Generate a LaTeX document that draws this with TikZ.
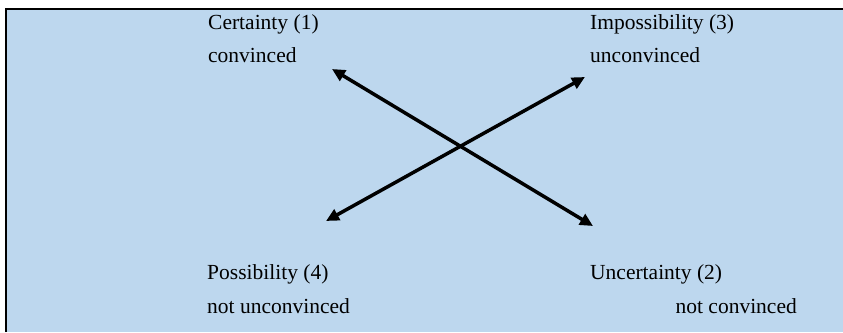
\documentclass[tikz,border=0pt]{standalone}
\usepackage{fontspec}
\setmainfont{Liberation Serif}
\usetikzlibrary{arrows.meta}
\definecolor{panelblue}{HTML}{BDD7EE}
\tikzset{
  lbl/.style={anchor=base west, inner sep=0pt, font=\fontsize{21.5}{26}\selectfont, text=black},
  dblarrow/.style={line width=3.5pt, {Triangle[length=13pt,width=12pt]}-{Triangle[length=13pt,width=12pt]}},
}
\begin{document}
\begin{tikzpicture}[x=1pt,y=-1pt]
\useasboundingbox (0,0) rectangle (843,332);
\fill[panelblue] (6,9) rectangle (843,332);
\draw[line width=1.3pt] (6,332) -- (6,9) -- (843,9);
% texts
\node[lbl] (cert) at (208,29) {Certainty (1)};
\node[lbl] (conv) at (208,62) {convinced};
\node[lbl] (imp) at (590,29) {Impossibility (3)};
\node[lbl] (unconv) at (590,62) {unconvinced};
\node[lbl] (poss) at (207,279) {Possibility (4)};
\node[lbl] (notunconv) at (207,313) {not unconvinced};
\node[lbl] (uncert) at (590,279) {Uncertainty (2)};
\node[lbl, anchor=base east] (notconv) at (797,313) {not convinced};
% arrow ends
\coordinate (tl) at (332,69);
\coordinate (br) at (593,226);
\coordinate (bl) at (326,221);
\coordinate (tr) at (585,77);
\draw[dblarrow] (tl) -- (br);
\draw[dblarrow] (bl) -- (tr);
\end{tikzpicture}
\end{document}
